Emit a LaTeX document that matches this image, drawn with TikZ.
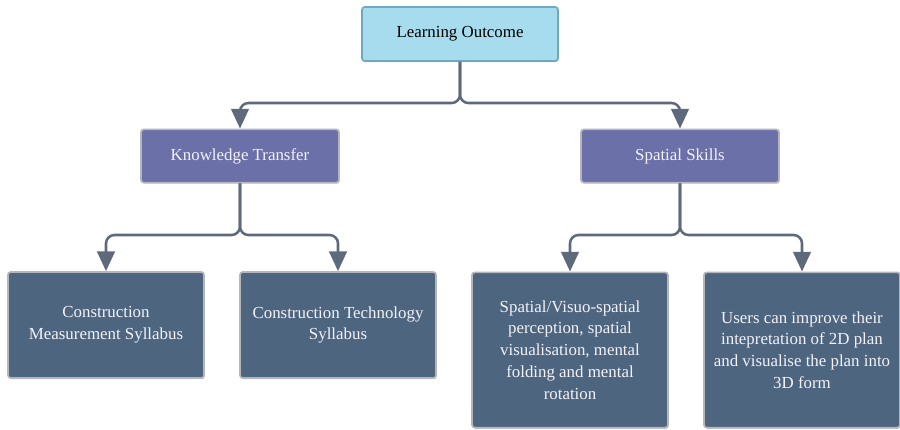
\documentclass[tikz,border=0pt]{standalone}
\usepackage{fontspec}
\setmainfont{Liberation Serif}
\usetikzlibrary{arrows.meta,shadows}
\definecolor{topfill}{HTML}{A6DCEE}
\definecolor{topline}{HTML}{6FA9BE}
\definecolor{midfill}{HTML}{6B70A8}
\definecolor{lowfill}{HTML}{4E6580}
\definecolor{connline}{HTML}{5E6A7C}
\definecolor{boxrim}{HTML}{B4B6BC}
\definecolor{boxtext}{HTML}{F2F2F8}
\begin{document}
\begin{tikzpicture}[>={Triangle[width=12.5pt,length=14pt]}, x=0.025cm, y=-0.025cm,
  box/.style={draw=boxrim, line width=1.2pt, rounded corners=2pt, align=center,
    inner sep=0pt, font=\fontsize{12}{15.5}\selectfont,
    drop shadow={shadow xshift=0.4pt, shadow yshift=-0.8pt, opacity=0.45}},
  topbox/.style={box, fill=topfill, draw=topline, text=black, minimum width=4.9cm, minimum height=1.35cm},
  midbox/.style={box, fill=midfill, text=boxtext, minimum width=4.95cm, minimum height=1.33cm},
  lowbox/.style={box, fill=lowfill, text=boxtext, minimum width=4.9cm},
  conn/.style={->, draw=connline, line width=1.8pt, rounded corners=6pt}]
\useasboundingbox (0,0) rectangle (900,429);

\node[topbox] (outcome) at (460,34) {Learning Outcome};
\node[midbox] (transfer) at (240,156) {Knowledge Transfer};
\node[midbox] (spatial) at (680,156) {Spatial Skills};
\node[lowbox, minimum height=2.65cm] (measure) at (106,325) {Construction\\Measurement Syllabus};
\node[lowbox, minimum height=2.65cm] (techno) at (338,325) {Construction Technology\\Syllabus};
\node[lowbox, minimum height=3.88cm] (visuo) at (570,350) {Spatial/Visuo-spatial\\perception, spatial\\visualisation, mental\\folding and mental\\rotation};
\node[lowbox, minimum height=3.88cm] (users) at (802,350) {Users can improve their\\intepretation of 2D plan\\and visualise the plan into\\3D form};

\coordinate (split1) at (460,103);
\coordinate (split2) at (240,235);
\coordinate (split3) at (680,235);

\draw[conn] (outcome.south) -- (outcome.south |- split1) -| (transfer.north);
\draw[conn] (outcome.south) -- (outcome.south |- split1) -| (spatial.north);
\draw[conn] (transfer.south) -- (split2) -| (measure.north);
\draw[conn] (transfer.south) -- (split2) -| (techno.north);
\draw[conn] (spatial.south) -- (split3) -| (visuo.north);
\draw[conn] (spatial.south) -- (split3) -| (users.north);
\end{tikzpicture}
\end{document}
